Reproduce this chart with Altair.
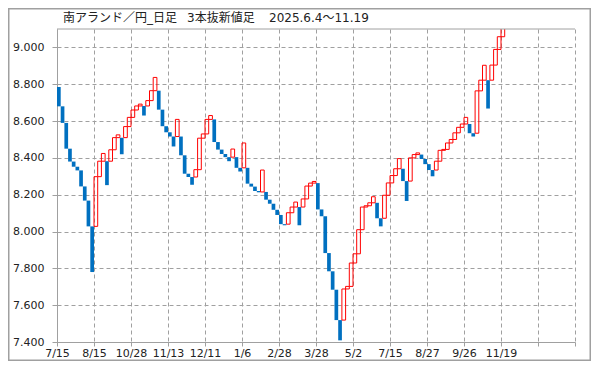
import altair as alt
import pandas as pd

# ---- data (three-line-break bricks) ----
brick_low = [
    8.680, 8.590, 8.450, 8.380, 8.352, 8.332, 8.245, 8.168, 8.028, 7.780,   # 0-9
    8.028, 8.298, 8.382, 8.252, 8.382, 8.444, 8.510, 8.420, 8.510, 8.570,   # 10-19
    8.620, 8.660, 8.682, 8.630, 8.682, 8.711, 8.765, 8.662, 8.572, 8.539,   # 20-29
    8.516, 8.462, 8.516, 8.414, 8.314, 8.296, 8.254, 8.296, 8.336, 8.507,   # 30-39
    8.530, 8.609, 8.486, 8.445, 8.421, 8.404, 8.382, 8.404, 8.346, 8.326,   # 40-49
    8.346, 8.260, 8.244, 8.220, 8.213, 8.215, 8.173, 8.151, 8.118, 8.090,   # 50-59
    8.040, 8.034, 8.040, 8.102, 8.133, 8.034, 8.133, 8.177, 8.247, 8.263,   # 60-69
    8.120, 8.083, 7.883, 7.784, 7.684, 7.519, 7.409, 7.519, 7.688, 7.702,   # 70-79
    7.829, 7.879, 8.010, 8.133, 8.140, 8.156, 8.072, 8.028, 8.072, 8.197,   # 80-89
    8.264, 8.304, 8.341, 8.274, 8.166, 8.274, 8.400, 8.418, 8.394, 8.366,   # 90-99
    8.334, 8.300, 8.334, 8.382, 8.441, 8.446, 8.481, 8.500, 8.536, 8.566,   # 100-109
    8.584, 8.534, 8.516, 8.534, 8.764, 8.822, 8.668, 8.822, 8.904, 8.989,   # 110-119
    9.058,                                                                   # 120
]
brick_high = [
    8.785, 8.680, 8.590, 8.450, 8.380, 8.352, 8.332, 8.245, 8.168, 8.028,
    8.298, 8.382, 8.424, 8.382, 8.444, 8.510, 8.525, 8.510, 8.570, 8.620,
    8.660, 8.682, 8.692, 8.682, 8.711, 8.765, 8.837, 8.765, 8.662, 8.572,
    8.539, 8.516, 8.609, 8.516, 8.414, 8.314, 8.296, 8.336, 8.507, 8.530,
    8.609, 8.630, 8.609, 8.486, 8.445, 8.421, 8.404, 8.448, 8.404, 8.346,
    8.481, 8.346, 8.260, 8.244, 8.220, 8.334, 8.215, 8.173, 8.151, 8.118,
    8.090, 8.040, 8.102, 8.133, 8.160, 8.133, 8.177, 8.247, 8.263, 8.272,
    8.263, 8.120, 8.083, 7.883, 7.784, 7.684, 7.519, 7.688, 7.702, 7.829,
    7.879, 8.010, 8.133, 8.140, 8.156, 8.189, 8.156, 8.072, 8.197, 8.264,
    8.304, 8.341, 8.396, 8.341, 8.274, 8.400, 8.418, 8.427, 8.418, 8.394,
    8.366, 8.334, 8.382, 8.441, 8.446, 8.481, 8.500, 8.536, 8.566, 8.584,
    8.620, 8.584, 8.534, 8.764, 8.822, 8.903, 8.822, 8.904, 8.989, 9.058,
    9.130,
]
brick_dir = list(
    "DDDDDDDDDD"   # 0-9
    "UUUDUUUDUU"   # 10-19
    "UUUDUUUDDD"   # 20-29
    "DDUDDDDUUU"   # 30-39
    "UUDDDDDUDD"   # 40-49
    "UDDDDUDDDD"   # 50-59
    "DDUUUDUUUU"   # 60-69
    "DDDDDDDUUU"   # 70-79
    "UUUUUUDDUU"   # 80-89
    "UUUDDUUUDD"   # 90-99
    "DDUUUUUUUU"   # 100-109
    "UDDUUUDUUU"   # 110-119
    "U"            # 120
)
x_labels = ["7/15", "8/15", "10/28", "11/13", "12/11", "1/6", "2/28", "3/28",
            "5/2", "7/15", "8/27", "9/26", "11/19", "", ""]
x_tick_values = [0, 10, 20, 30, 40, 50, 60, 70, 80, 90, 100, 110, 120, 130, 140]
y_tick_values = [7.4, 7.6, 7.8, 8.0, 8.2, 8.4, 8.6, 8.8, 9.0]
title_parts = ["南アランド／円_日足", "3本抜新値足", "2025.6.4～11.19"]

n = len(brick_low)
df = pd.DataFrame({
    "i": list(range(n)),
    "i2": [k + 1 for k in range(n)],
    "lo": brick_low,
    "hi": brick_high,
    "dir": brick_dir,
})
down_df = df[df["dir"] == "D"]
up_df = df[df["dir"] == "U"]
one = pd.DataFrame({"a": [0]})

GRAY = "#A0A0A0"
TXT = "#222222"
W, H = 518, 313

label_expr = "[" + ",".join("'" + s + "'" for s in x_labels) + "][round(datum.value/10)]"

x_enc = alt.X(
    "i:Q",
    scale=alt.Scale(domain=[0, 140], nice=False, zero=False),
    axis=alt.Axis(
        values=x_tick_values, labelExpr=label_expr, title=None,
        grid=True, gridColor=GRAY, gridDash=[4, 3], gridWidth=1,
        domainColor=GRAY, tickColor=GRAY, tickSize=4, labelPadding=1,
        labelFont="DejaVu Sans", labelFontSize=11, labelColor=TXT,
        labelFlush=False, labelOverlap=False,
    ),
)
y_enc = alt.Y(
    "lo:Q",
    scale=alt.Scale(domain=[7.4, 9.1], nice=False, zero=False),
    axis=alt.Axis(
        values=y_tick_values, format=".3f", title=None,
        grid=True, gridColor=GRAY, gridDash=[4, 3], gridWidth=1,
        domainColor=GRAY, tickColor=GRAY, tickSize=5, labelPadding=8,
        labelFont="DejaVu Sans", labelFontSize=11, labelColor=TXT,
        labelFlush=False, labelOverlap=False,
    ),
)

down = alt.Chart(down_df).mark_rect(color="#0070C0", clip=True).encode(
    x=x_enc, x2="i2:Q", y=y_enc, y2="hi:Q"
)
up = alt.Chart(up_df).mark_rect(
    fill="white", fillOpacity=0, stroke="#FF0000", strokeWidth=1, clip=True
).encode(x=x_enc, x2="i2:Q", y=y_enc, y2="hi:Q")

top_line = alt.Chart(one).mark_rule(color=GRAY, strokeWidth=1).encode(
    x=alt.value(0), x2=alt.value(W), y=alt.value(0)
)
frame = alt.Chart(one).mark_rect(
    fill="white", fillOpacity=0, stroke=GRAY, strokeWidth=1.5
).encode(
    x=alt.value(-48.25), x2=alt.value(W + 15.25),
    y=alt.value(-20.25), y2=alt.value(H + 18.25),
)

title_x = [6, 130, 212]
title_layers = [
    alt.Chart(one).mark_text(
        align="left", baseline="middle", fontSize=12,
        font="DejaVu Sans, Noto Sans CJK JP", color=TXT,
    ).encode(x=alt.value(tx), y=alt.value(-11), text=alt.value(tt))
    for tx, tt in zip(title_x, title_parts)
]

chart = alt.layer(down, up, top_line, frame, *title_layers).properties(
    width=W, height=H,
    autosize=alt.AutoSizeParams(type="none"),
    padding={"left": 49, "top": 21, "right": 16, "bottom": 19},
).configure_view(stroke="transparent")

chart.save("out.html", embed_options={"renderer": "svg", "actions": False})
